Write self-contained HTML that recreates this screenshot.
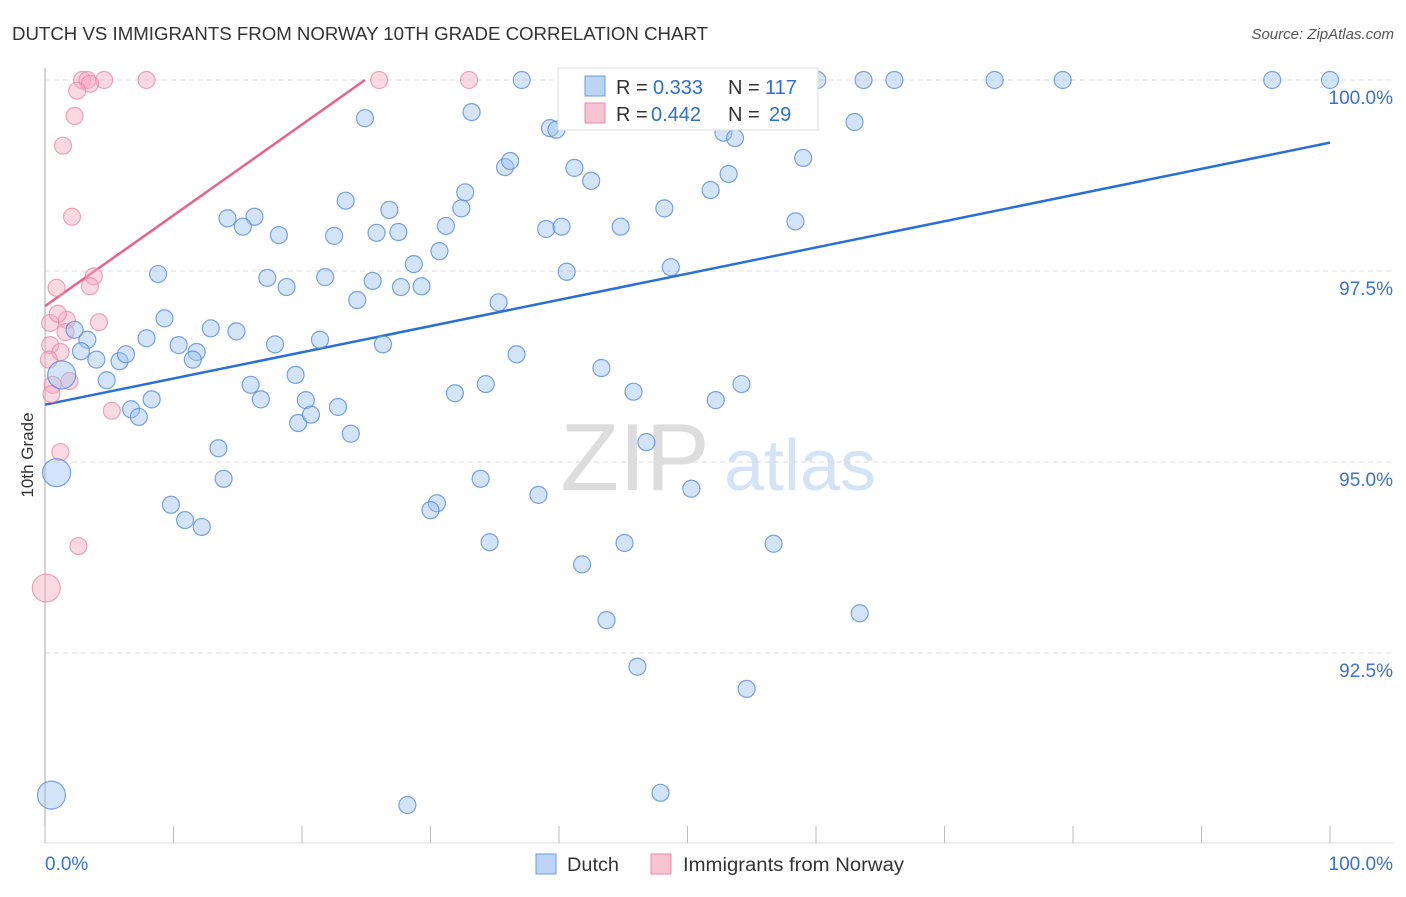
<!DOCTYPE html>
<html><head><meta charset="utf-8"><style>
body{margin:0;background:#fff;font-family:"Liberation Sans",sans-serif;}
svg text{font-family:"Liberation Sans",sans-serif;}
</style></head><body>
<svg width="1406" height="892" viewBox="0 0 1406 892" xmlns="http://www.w3.org/2000/svg">
<text x="12" y="40" font-size="18" fill="#333" textLength="696" lengthAdjust="spacingAndGlyphs">DUTCH VS IMMIGRANTS FROM NORWAY 10TH GRADE CORRELATION CHART</text>
<text x="1394" y="39" font-size="15" fill="#555" text-anchor="end" font-style="italic">Source: ZipAtlas.com</text>
<g>
<text x="635" y="490" font-size="96" fill="#ddd" text-anchor="middle" font-family="Liberation Serif">ZIP</text>
<text x="800" y="490" font-size="72" fill="#d4e3f5" text-anchor="middle">atlas</text>
</g>
<g id="grid"></g>
<g id="axes"></g>
<g id="trend"></g>
<g id="pts"></g>
<text x="33" y="455" font-size="17" fill="#333" text-anchor="middle" transform="rotate(-90 33 455)">10th Grade</text>
<g>
<rect x="558" y="68" width="260" height="62" fill="#fff" stroke="#ddd"/>
<rect x="585" y="76" width="20" height="20" fill="#bcd4f5" stroke="#6a9be0"/>
<rect x="585" y="103" width="20" height="20" fill="#f8c4d3" stroke="#e88aa6"/>
<text x="616" y="94" font-size="20" fill="#333">R = <tspan x="653" fill="#2e6fd0">0.333</tspan><tspan x="728">N = </tspan><tspan x="765" fill="#2e6fd0">117</tspan></text>
<text x="616" y="121" font-size="20" fill="#333">R = <tspan x="651" fill="#2e6fd0">0.442</tspan><tspan x="728">N = </tspan><tspan x="769" fill="#2e6fd0">29</tspan></text>
</g>
<g>
<rect x="536" y="854" width="20" height="20" fill="#bcd4f5" stroke="#6a9be0"/>
<text x="567" y="871" font-size="19" fill="#333" textLength="52" lengthAdjust="spacingAndGlyphs">Dutch</text>
<rect x="651" y="854" width="20" height="20" fill="#f8c4d3" stroke="#e88aa6"/>
<text x="683" y="871" font-size="19" fill="#333" textLength="221" lengthAdjust="spacingAndGlyphs">Immigrants from Norway</text>
</g>
</svg>
<script>
const yTicks=[100,97.5,95,92.5];
const yTickLabels=["100.0%","97.5%","95.0%","92.5%"];
const xTickLabels=["0.0%","100.0%"];
const blueX=[37.1,60.1,63.7,66.1,73.9,79.2,95.5,100,50.6,24.9,33.2,39.3,39.8,63.0,52.8,53.7,59.0,35.8,36.2,41.2,42.5,53.2,51.8,32.7,32.4,23.4,26.8,14.2,16.3,15.4,18.2,22.5,25.8,27.5,31.2,39.0,40.2,44.8,48.2,58.4,30.7,28.7,8.8,17.3,18.8,21.8,25.5,27.7,29.3,24.3,35.3,40.6,48.7,9.3,12.9,14.9,7.9,3.3,2.3,10.4,11.8,17.9,21.4,26.3,2.8,4.0,5.8,6.3,11.5,4.8,1.3,19.5,16.0,8.3,16.8,20.3,22.8,6.7,7.3,19.7,20.7,23.8,36.7,43.3,34.3,31.9,45.8,52.2,54.2,13.5,46.8,13.9,9.8,10.9,12.2,33.9,30.5,30.0,38.4,50.3,34.6,45.1,56.7,41.8,43.7,63.4,46.1,54.6,28.2,47.9,0.9,0.5];
const blueY=[100,100,100,100,100,100,100,100,100,99.50,99.58,99.37,99.35,99.45,99.31,99.24,98.98,98.86,98.94,98.85,98.68,98.77,98.56,98.53,98.32,98.42,98.30,98.19,98.21,98.08,97.97,97.96,98.00,98.01,98.09,98.05,98.08,98.08,98.32,98.15,97.76,97.59,97.46,97.41,97.29,97.42,97.37,97.29,97.30,97.12,97.09,97.49,97.55,96.88,96.75,96.71,96.62,96.60,96.73,96.53,96.44,96.54,96.60,96.54,96.45,96.34,96.32,96.41,96.34,96.07,96.14,96.14,96.01,95.82,95.82,95.81,95.72,95.69,95.59,95.51,95.62,95.37,96.41,96.23,96.02,95.90,95.92,95.81,96.02,95.18,95.26,94.78,94.44,94.24,94.15,94.78,94.46,94.37,94.57,94.65,93.95,93.94,93.93,93.66,92.93,93.02,92.32,92.03,90.51,90.67,94.86,90.64];
const blueBig=[70,110,111];
const pinkX=[2.9,3.3,4.6,7.9,26.0,33.0,3.5,2.5,2.3,1.4,2.1,3.8,3.5,0.9,0.4,1.7,4.2,1.0,1.6,0.4,1.2,0.3,1.9,0.6,0.5,5.2,1.2,2.6,0.1];
const pinkY=[100,100,100,100,100,100,99.95,99.86,99.53,99.14,98.21,97.43,97.30,97.28,96.82,96.86,96.83,96.94,96.70,96.53,96.44,96.34,96.06,96.01,95.89,95.67,95.13,93.90,93.35];
const pinkBig=[28];
const blueTrendX=[0,100], blueTrendY=[95.75,99.18];
const pinkTrendX=[0,24.9], pinkTrendY=[97.04,100];

const NS="http://www.w3.org/2000/svg";
const xs=v=>45+v*12.85;
const ys=v=>80+(100-v)*76.4;
function mk(tag,attrs,parent){const e=document.createElementNS(NS,tag);for(const k in attrs)e.setAttribute(k,attrs[k]);document.getElementById(parent).appendChild(e);return e;}
yTicks.forEach((t,i)=>{
 const l=mk('line',{x1:45,x2:1393,y1:ys(t),y2:ys(t),stroke:'#ddd','stroke-dasharray':'5,4'},'grid');
 
 
 const tx=mk('text',{x:1393,y:ys(t)+24,'font-size':19,fill:'#3a72d0','text-anchor':'end'},'grid');
 tx.textContent=yTickLabels[i];
 
 
});
const ax=mk('line',{x1:45,x2:45,y1:68,y2:843,stroke:'#aaa'},'axes');


const bx=mk('line',{x1:45,x2:1393,y1:843,y2:843,stroke:'#ddd'},'axes');


for(let i=0;i<=10;i++){
 const t=mk('line',{x1:xs(i*10),x2:xs(i*10),y1:826,y2:843,stroke:'#bbb'},'axes');
 
 
}
[[0,'start'],[100,'end']].forEach((p,i)=>{
 const t=mk('text',{x:i?1393:45,y:870,'font-size':19,fill:'#3a72d0','text-anchor':p[1]},'axes');
 t.textContent=xTickLabels[i];
 
 
});
pinkX.forEach((x,i)=>{
 const c=mk('circle',{cx:xs(x),cy:ys(pinkY[i]),r:pinkBig.includes(i)?14:8.5,fill:'rgba(246,170,192,0.45)',stroke:'rgba(232,130,160,0.7)','stroke-width':1.2},'pts');
 
 
});
blueX.forEach((x,i)=>{
 const c=mk('circle',{cx:xs(x),cy:ys(blueY[i]),r:blueBig.includes(i)?14:8.5,fill:'rgba(160,196,240,0.45)',stroke:'rgba(80,135,215,0.75)','stroke-width':1.2},'pts');
 
 
});
const bl=mk('line',{x1:xs(blueTrendX[0]),y1:ys(blueTrendY[0]),x2:xs(blueTrendX[1]),y2:ys(blueTrendY[1]),stroke:'#2a6fd6','stroke-width':2.5},'trend');


const pl=mk('line',{x1:xs(pinkTrendX[0]),y1:ys(pinkTrendY[0]),x2:xs(pinkTrendX[1]),y2:ys(pinkTrendY[1]),stroke:'#e8638c','stroke-width':2.5},'trend');


</script>
</body></html>
